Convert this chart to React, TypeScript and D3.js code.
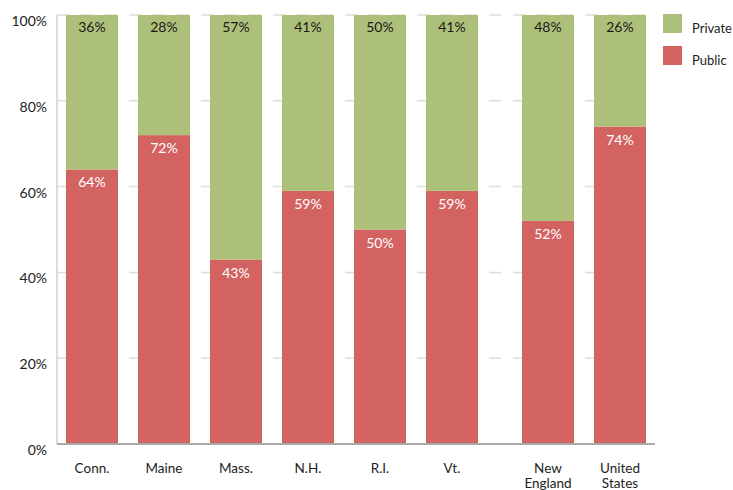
import React from "react";
import * as d3 from "d3";

const categories = ["Conn.", "Maine", "Mass.", "N.H.", "R.I.", "Vt.", "New England", "United States"];
const publicVals = [64, 72, 43, 59, 50, 59, 52, 74];
const privateVals = [36, 28, 57, 41, 50, 41, 48, 26];
const yTicks = [0, 20, 40, 60, 80, 100];
const seriesNames = ["Private", "Public"];

const W = 733, H = 490;
const GREEN = "#adc079";
const RED = "#d36361";
const FONT = "Lato, 'Open Sans', sans-serif";

export default function App() {
  const left = 57, right = 655, top = 15, bottom = 444;
  const extraGap = 24;
  const x = d3.scaleBand<string>()
    .domain(categories)
    .range([left, right - extraGap])
    .paddingInner(20 / 72)
    .paddingOuter(0.125);
  const xPos = (c: string) => x(c)! + (categories.indexOf(c) >= 6 ? extraGap : 0);
  const y = d3.scaleLinear().domain([0, 100]).range([bottom, top]);
  const bw = x.bandwidth();

  return (
    <svg width={W} height={H} style={{ position: "absolute", left: 0, top: 0, fontFamily: FONT }}>
      {yTicks.filter(t => t > 0).map(t => (
        <line key={t} x1={left} x2={right} y1={y(t)} y2={y(t)} stroke="#dddddd" strokeWidth={1.5} strokeDasharray="12,12" />
      ))}
      <line x1={left} x2={left} y1={top} y2={bottom} stroke="#d0d0d0" strokeWidth={1.5} />
      {yTicks.map(t => (
        <text key={t} x={47} y={y(t) + 11} textAnchor="end" fontSize={14} fill="#222">{t}%</text>
      ))}
      {categories.map((c, i) => {
        const x0 = xPos(c);
        const pub = publicVals[i];
        const priv = privateVals[i];
        return (
          <g key={c}>
            <rect x={x0} width={bw} y={y(pub)} height={y(0) - y(pub)} fill={RED} />
            <rect x={x0} width={bw} y={y(100)} height={y(pub) - y(100)} fill={GREEN} />
            <text x={x0 + bw / 2} y={y(100) + 17} textAnchor="middle" fontSize={14} fill="#1a1a1a">{priv}%</text>
            <text x={x0 + bw / 2} y={y(pub) + 18} textAnchor="middle" fontSize={14} fill="#ffffff">{pub}%</text>
          </g>
        );
      })}
      <line x1={left} x2={right} y1={bottom} y2={bottom} stroke="#aaaaaa" strokeWidth={2} />
      {categories.map(c => {
        const parts = c.split(" ");
        return (
          <text key={c} x={xPos(c) + bw / 2} y={473} textAnchor="middle" fontSize={13.5} fill="#222">
            {parts.map((p, j) => (
              <tspan key={j} x={xPos(c) + bw / 2} dy={j === 0 ? 0 : 15}>{p}</tspan>
            ))}
          </text>
        );
      })}
      {seriesNames.map((s, i) => (
        <g key={s}>
          <rect x={663} y={14 + i * 32} width={19} height={19} fill={i === 0 ? GREEN : RED} />
          <text x={692} y={28 + i * 32 + 5} fontSize={13} fill="#222">{s}</text>
        </g>
      ))}
    </svg>
  );
}
